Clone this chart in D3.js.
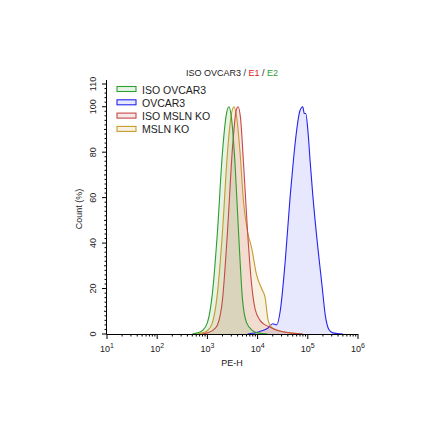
<!DOCTYPE html>
<html><head><meta charset="utf-8">
<script src="https://cdn.jsdelivr.net/npm/d3@7"></script>
<style>body{margin:0;background:#fff}text{font-family:"Liberation Sans",Arial,sans-serif}</style>
</head><body><svg id="c" width="440" height="440"></svg>
<script>
const seriesNames = ["ISO OVCAR3","OVCAR3","ISO MSLN KO","MSLN KO"];
const seriesColors = ["#2e9e2e","#2424f0","#c84848","#c89a30"];
const fillColors = ["rgba(46,158,46,0.12)","rgba(60,60,240,0.12)","rgba(200,72,72,0.12)","rgba(200,154,48,0.14)"];
// [log10(PE-H), count]
const isoOvcar3 = [[2.7,0],[2.8,0.5],[2.9,1.5],[3.0,5],[3.1,18],[3.2,45],[3.3,80],[3.38,97],[3.43,100],[3.48,95],[3.55,75],[3.62,45],[3.7,15],[3.78,5],[3.9,1.5],[4.0,0.5],[4.2,0]];
const ovcar3 = [[3.8,0],[3.9,0.3],[4.0,0.8],[4.1,1.5],[4.2,2.5],[4.3,4.5],[4.38,4],[4.45,10],[4.55,32],[4.65,61],[4.72,78],[4.78,90],[4.84,98],[4.9,100],[4.93,97],[4.96,97],[5.0,90],[5.05,75],[5.1,61],[5.2,38],[5.28,22],[5.35,8],[5.42,2],[5.5,0.5],[5.7,0]];
const isoMslnKo = [[2.9,0],[3.0,0.5],[3.1,1.5],[3.2,4],[3.3,15],[3.4,45],[3.5,82],[3.57,98],[3.61,100],[3.66,95],[3.72,75],[3.8,45],[3.88,22],[3.95,11],[4.05,6],[4.15,4],[4.25,3],[4.35,2],[4.5,1],[4.7,0.3],[4.9,0]];
const mslnKo = [[2.8,0],[2.9,0.5],[3.0,1.5],[3.1,5],[3.2,18],[3.3,45],[3.4,80],[3.48,97],[3.53,100],[3.58,96],[3.65,80],[3.72,58],[3.8,45],[3.88,38],[3.98,26],[4.08,20],[4.15,16],[4.21,6],[4.3,2.5],[4.5,1],[4.7,0.4],[4.9,0]];
const allSeries = [isoOvcar3, ovcar3, isoMslnKo, mslnKo];
const yTicks = [0,20,40,60,80,100];
const xTickExps = [1,2,3,4,5,6];

const svg = d3.select("#c");
const x = d3.scaleLinear().domain([1,6]).range([107,358]);
const y = d3.scaleLinear().domain([0,110]).range([334,84]);

const area = d3.area().x(d=>x(d[0])).y0(y(0)).y1(d=>y(d[1])).curve(d3.curveMonotoneX);
const line = d3.line().x(d=>x(d[0])).y(d=>y(d[1])).curve(d3.curveMonotoneX);
[1,3,2,0].forEach(i=>{
  svg.append("path").attr("d",area(allSeries[i])).attr("fill",fillColors[i]);
});
[1,3,2,0].forEach(i=>{
  svg.append("path").attr("d",line(allSeries[i])).attr("fill","none").attr("stroke",seriesColors[i]).attr("stroke-width",1.1);
});

const ax = svg.append("g").attr("stroke","#000");
ax.append("line").attr("x1",107).attr("x2",358).attr("y1",334.5).attr("y2",334.5);
ax.append("line").attr("x1",106.5).attr("x2",106.5).attr("y1",80).attr("y2",334.5);
xTickExps.forEach(e=>{
  ax.append("line").attr("x1",x(e)).attr("x2",x(e)).attr("y1",334).attr("y2",339);
  if(e<6) for(let k=2;k<10;k++){const xv=x(e+Math.log10(k));
    ax.append("line").attr("x1",xv).attr("x2",xv).attr("y1",334).attr("y2",336.5);}
  const t=svg.append("text").attr("x",x(e)).attr("y",352).attr("text-anchor","middle").attr("font-size",9).attr("fill","#222");
  t.append("tspan").text("10");
  t.append("tspan").attr("dy",-4).attr("font-size",7).text(e);
});
[0,10,20,30,40,50,60,70,80,90,100,110].forEach(v=>{
  const major = yTicks.includes(v)||v===110;
  ax.append("line").attr("x1",major?102:104).attr("x2",107).attr("y1",y(v)).attr("y2",y(v));
  if(v<110) for(let k=1;k<5;k++){const yv=y(v+k*2); ax.append("line").attr("x1",104.5).attr("x2",107).attr("y1",yv).attr("y2",yv);}
});
yTicks.concat([110]).forEach(v=>{
  svg.append("text").attr("transform",`translate(96,${y(v)}) rotate(-90)`).attr("text-anchor","middle").attr("font-size",9).attr("fill","#222").text(v);
});
svg.append("text").attr("x",232).attr("y",366).attr("text-anchor","middle").attr("font-size",9).attr("fill","#222").text("PE-H");
svg.append("text").attr("transform",`translate(82,${y(55)}) rotate(-90)`).attr("text-anchor","middle").attr("font-size",9).attr("fill","#222").text("Count (%)");

const title = svg.append("text").attr("x",232).attr("y",76).attr("text-anchor","middle").attr("font-size",9);
title.append("tspan").attr("fill","#222").text("ISO OVCAR3 / ");
title.append("tspan").attr("fill","#e02020").text("E1");
title.append("tspan").attr("fill","#222").text(" / ");
title.append("tspan").attr("fill","#2e9e2e").text("E2");

seriesNames.forEach((n,i)=>{
  const yy = 90+i*13.3;
  svg.append("rect").attr("x",117).attr("y",yy-3.5).attr("width",19).attr("height",5).attr("fill",fillColors[i]).attr("stroke",seriesColors[i]).attr("stroke-width",1.1);
  svg.append("text").attr("x",142).attr("y",yy+3.5).attr("font-size",10.5).attr("fill","#222").text(n);
});
</script></body></html>
